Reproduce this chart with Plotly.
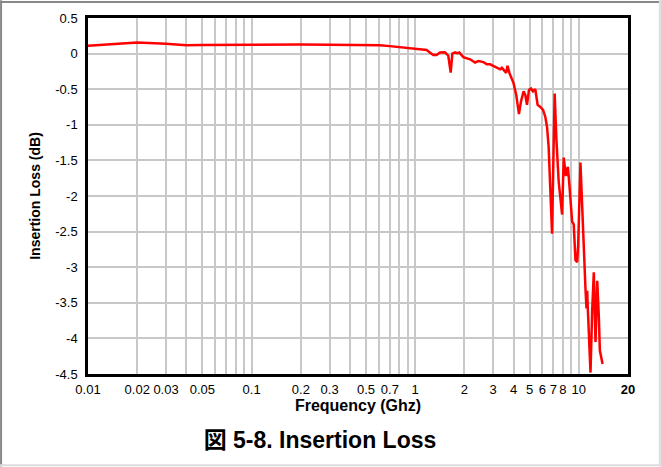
import plotly.graph_objects as go

# Frequency (GHz) and insertion loss (dB)
freq = [0.01, 0.02, 0.03, 0.04, 0.05, 0.07, 0.1, 0.2, 0.3, 0.5, 0.607, 0.7, 0.806,
        0.972, 1.12, 1.175, 1.23, 1.29, 1.32, 1.353, 1.417, 1.52, 1.594, 1.649,
        1.687, 1.752, 1.81, 1.862, 1.97, 2.166, 2.325, 2.435, 2.614, 2.742, 2.873,
        3.158, 3.308, 3.39, 3.501, 3.601, 3.668, 3.773, 3.993, 4.148, 4.309, 4.432,
        4.598, 4.71, 4.825, 4.963, 5.105, 5.251, 5.425, 5.604, 5.821, 6.047, 6.247,
        6.399, 6.546, 6.705, 6.867, 6.995, 7.125, 7.298, 7.539, 7.911, 8.091, 8.35,
        8.58, 8.77, 8.956, 9.11, 9.318, 9.545, 9.777, 9.916, 10.24, 10.64, 10.99,
        11.15, 11.26, 11.36, 11.8, 12.08, 12.36, 12.66, 12.97, 13.27, 13.46, 13.98]
loss = [0.11, 0.155, 0.14, 0.118, 0.12, 0.123, 0.125, 0.128, 0.125, 0.12, 0.118, 0.105, 0.09,
        0.077, 0.063, 0.05, 0.016, -0.02, -0.017, -0.02, 0.016, 0.02, -0.03, -0.266,
        0.0, 0.016, 0.005, 0.016, -0.05, -0.08, -0.125, -0.105, -0.12, -0.15, -0.15,
        -0.2, -0.22, -0.2, -0.24, -0.27, -0.17, -0.275, -0.415, -0.58, -0.85, -0.675,
        -0.53, -0.58, -0.72, -0.51, -0.49, -0.53, -0.5, -0.72, -0.75, -0.79, -0.89,
        -1.03, -1.31, -2.0, -2.53, -1.5, -0.56, -1.2, -1.8, -2.26, -1.46, -1.72,
        -1.59, -1.85, -2.2, -2.36, -2.4, -2.9, -2.93, -2.7, -1.53, -2.6, -3.3,
        -3.58, -3.33, -3.58, -4.48, -3.61, -3.07, -4.05, -3.19, -3.7, -4.17, -4.36]

x_labels = {0.01: "0.01", 0.02: "0.02", 0.03: "0.03", 0.05: "0.05", 0.1: "0.1",
            0.2: "0.2", 0.3: "0.3", 0.5: "0.5", 0.7: "0.7", 1: "1", 2: "2", 3: "3",
            4: "4", 5: "5", 6: "6", 7: "7", 8: "8", 10: "10", 20: "<b>20</b>"}
y_ticks = [0.5, 0, -0.5, -1, -1.5, -2, -2.5, -3, -3.5, -4, -4.5]
y_labels = ["0.5", "0", "-0.5", "-1", "-1.5", "-2", "-2.5", "-3", "-3.5", "-4", "-4.5"]

grid_vals = []
for dec in [0.01, 0.1, 1, 10]:
    for m in range(1, 10):
        v = round(dec * m, 6)
        if v <= 20:
            grid_vals.append(v)
grid_vals.append(20)
grid_text = [x_labels.get(v, "") for v in grid_vals]

FONT = "Liberation Sans, Arial, Noto Sans CJK JP, sans-serif"

fig = go.Figure()
fig.add_trace(go.Scatter(x=freq, y=loss, mode="lines",
                         line=dict(color="#ff0000", width=2.5), showlegend=False))

fig.update_layout(
    width=661, height=467,
    margin=dict(l=88, r=33, t=18, b=93),
    paper_bgcolor="white", plot_bgcolor="white",
    font=dict(family=FONT, size=13, color="black"),
    title=dict(text="<b>図 5-8. Insertion Loss</b>", x=320 / 661, xanchor="center",
               y=1 - 440 / 467, yanchor="middle", yref="container", xref="container",
               font=dict(size=23, family=FONT, color="black")),
    xaxis=dict(type="log", range=[-2, 1.30103], tickvals=grid_vals, ticktext=grid_text,
               tickangle=0, showgrid=True, gridcolor="#c8c8c8", gridwidth=1.5,
               showline=True, linecolor="black", linewidth=2.5, mirror=True,
               ticks="", tickfont=dict(size=13), ticklabelstandoff=2,
               title=dict(text="<b>Frequency (Ghz)</b>", font=dict(size=16), standoff=3),
               zeroline=False),
    yaxis=dict(range=[-4.5, 0.5], tickvals=y_ticks, ticktext=y_labels,
               showgrid=True, gridcolor="#c8c8c8", gridwidth=1.5,
               showline=True, linecolor="black", linewidth=2.5, mirror=True,
               ticks="", tickfont=dict(size=13), ticklabelstandoff=5,
               title=dict(text="<b>Insertion Loss (dB)</b>", font=dict(size=14), standoff=12),
               zeroline=False),
)

# outer frame of the figure
fig.add_shape(type="line", xref="paper", yref="paper", x0=-0.163, x1=1.06,
              y0=1.045, y1=1.045, line=dict(color="#888888", width=2))
fig.add_shape(type="line", xref="paper", yref="paper", x0=-0.161, x1=-0.161,
              y0=-0.26, y1=1.05, line=dict(color="#888888", width=2))
fig.add_shape(type="line", xref="paper", yref="paper", x0=-0.163, x1=1.06,
              y0=-0.256, y1=-0.256, line=dict(color="#dddddd", width=2))
fig.add_shape(type="line", xref="paper", yref="paper", x0=1.059, x1=1.059,
              y0=-0.26, y1=1.05, line=dict(color="#dddddd", width=2))

fig.write_html("out.html", config={"displayModeBar": False},
               post_script="document.body.style.margin='0';")
